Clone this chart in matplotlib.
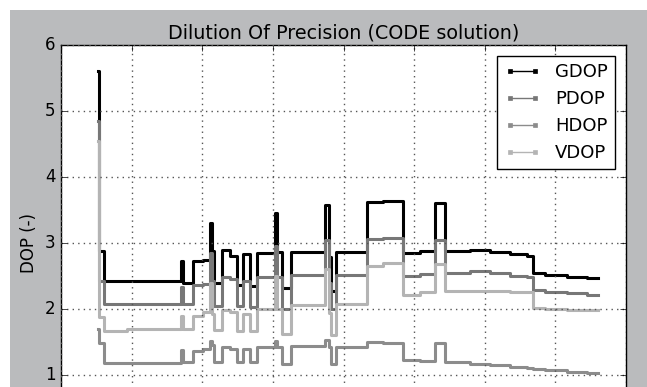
import matplotlib
matplotlib.use('Agg')
import matplotlib.pyplot as plt
from matplotlib.lines import Line2D
from matplotlib.patches import Rectangle

plt.style.use('classic')
plt.rcParams['font.family'] = ['DejaVu Sans']

# epoch start times (hours) of each constant-DOP segment
t = [1.57, 1.61, 1.83, 2.80, 5.10, 5.18, 5.61, 6.03, 6.33, 6.41, 6.50, 6.84,
     7.18, 7.48, 7.73, 8.03, 8.33, 9.09, 9.17, 9.39, 9.77, 11.21, 11.38, 11.47,
     11.68, 13.00, 13.68, 14.53, 15.25, 15.89, 16.31, 17.37, 18.22, 19.07,
     19.79, 20.05, 20.56, 21.49, 22.34]
t_end = 22.81

gdop = [5.60, 2.88, 2.42, 2.42, 2.72, 2.40, 2.72, 2.74, 3.30, 2.88, 2.39, 2.90,
        2.80, 2.37, 2.83, 2.35, 2.85, 3.45, 2.86, 2.32, 2.86, 3.57, 2.79, 2.27,
        2.86, 3.62, 3.64, 2.85, 2.88, 3.60, 2.88, 2.89, 2.86, 2.84,
        2.80, 2.55, 2.52, 2.49, 2.47]
pdop = [4.85, 2.42, 2.07, 2.07, 2.33, 2.07, 2.37, 2.38, 2.85, 2.42, 2.05, 2.48,
        2.45, 2.04, 2.42, 2.03, 2.48, 2.95, 2.48, 2.00, 2.52, 3.05, 2.40, 2.00,
        2.51, 3.06, 3.08, 2.50, 2.53, 3.05, 2.55, 2.57, 2.55, 2.50,
        2.48, 2.29, 2.26, 2.24, 2.21]
vdop = [4.55, 1.88, 1.66, 1.69, 1.90, 1.70, 1.90, 1.95, 2.40, 1.92, 1.68, 1.98,
        1.95, 1.66, 1.92, 1.66, 2.00, 2.50, 2.00, 1.62, 2.06, 2.60, 1.94, 1.60,
        2.07, 2.65, 2.69, 2.21, 2.26, 2.68, 2.27, 2.28, 2.27, 2.26,
        2.26, 2.01, 2.00, 1.99, 1.98]
hdop = [1.70, 1.48, 1.18, 1.18, 1.38, 1.19, 1.37, 1.40, 1.52, 1.45, 1.20, 1.42,
        1.40, 1.20, 1.40, 1.20, 1.42, 1.52, 1.43, 1.17, 1.44, 1.53, 1.42, 1.16,
        1.43, 1.50, 1.49, 1.23, 1.21, 1.48, 1.19, 1.17, 1.15, 1.12,
        1.10, 1.09, 1.07, 1.05, 1.03]

labels = ['GDOP', 'PDOP', 'HDOP', 'VDOP']
colors = ['#000000', '#777777', '#8c8c8c', '#b4b4b4']
series = [gdop, pdop, hdop, vdop]
yticks = [1, 2, 3, 4, 5, 6]

fig = plt.figure(figsize=(6.47, 3.87), dpi=100, facecolor='white')
fig.patches.append(Rectangle((10/647, 0), 1, 377/387, transform=fig.transFigure,
                             facecolor='#babbbd', edgecolor='none', zorder=-10))
ax = fig.add_axes([61/647, (387-441)/387, 565/647, 396/387])
ax.set_facecolor('white')

tt = t + [t_end]
for vals, c in zip(series, colors):
    ax.step(tt, vals + [vals[-1]], where='post', color=c, lw=2.2)

ax.set_xlim(0, 24)
ax.set_ylim(0, 6)
ax.set_xticks(range(0, 25, 3))
ax.set_yticks(yticks)
ax.grid(True, color='#555555', linestyle=':', linewidth=1)
ax.tick_params(labelsize=12, direction='in', labelbottom=False)
ax.set_ylabel('DOP (-)', fontsize=12)
ax.set_title('Dilution Of Precision (CODE solution)', fontsize=13.8, pad=5)

handles = [Line2D([], [], color=c, lw=1, marker='s', ms=2.5, markeredgecolor=c)
           for c in colors]
leg = ax.legend(handles, labels, loc='upper right', numpoints=2, fontsize=13,
                fancybox=False, handlelength=2.0, labelspacing=0.5,
                borderaxespad=0.6)
leg.get_frame().set_linewidth(1.0)

fig.savefig('out.png', dpi=100, facecolor=fig.get_facecolor())
